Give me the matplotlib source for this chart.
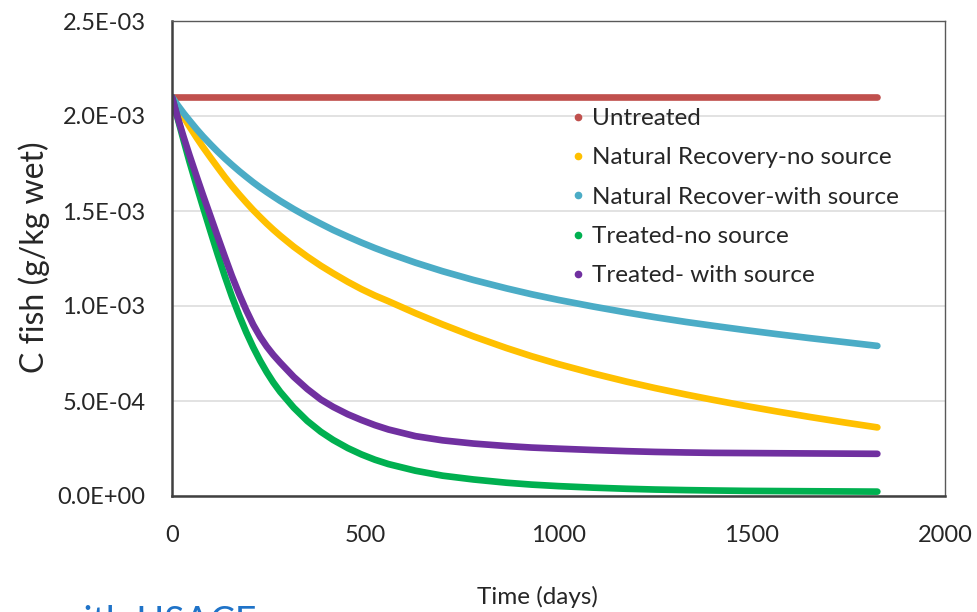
import matplotlib
matplotlib.use("Agg")
import matplotlib.pyplot as plt
from matplotlib.lines import Line2D
from matplotlib.ticker import FuncFormatter, MultipleLocator

plt.rcParams["font.family"] = ["Lato", "DejaVu Sans"]

# time axis (days) and fish concentration (x1e-3 g/kg wet)
days = [0, 15, 30, 45, 64, 80, 100, 118, 137, 155, 175, 192, 210, 228, 245, 262,
        280, 315, 350, 385, 417, 455, 490, 525, 560, 630, 700, 780, 865, 930,
        1000, 1090, 1176, 1250, 1330, 1400, 1484, 1565, 1650, 1740, 1825]

untreated = [2.10] * len(days)

nr_no_source = [2.10, 2.047, 1.995, 1.945, 1.885, 1.837, 1.78, 1.73, 1.678, 1.632,
                1.584, 1.545, 1.505, 1.468, 1.434, 1.402, 1.37, 1.312, 1.26, 1.212,
                1.172, 1.127, 1.089, 1.055, 1.025, 0.962, 0.903, 0.840, 0.779, 0.736,
                0.694, 0.645, 0.602, 0.568, 0.534, 0.506, 0.474, 0.445, 0.416,
                0.387, 0.361]

nr_with_source = [2.10, 2.056, 2.015, 1.977, 1.93, 1.893, 1.85, 1.813, 1.776, 1.743,
                  1.708, 1.68, 1.651, 1.624, 1.60, 1.577, 1.553, 1.51, 1.47, 1.433,
                  1.40, 1.365, 1.334, 1.305, 1.278, 1.228, 1.183, 1.137, 1.093, 1.062,
                  1.032, 0.997, 0.966, 0.941, 0.916, 0.896, 0.873, 0.852, 0.831,
                  0.81, 0.79]

treated_no_source = [2.10, 1.985, 1.872, 1.761, 1.63, 1.522, 1.39, 1.273, 1.155,
                     1.05, 0.945, 0.862, 0.783, 0.712, 0.652, 0.598, 0.548, 0.465,
                     0.395, 0.338, 0.295, 0.252, 0.219, 0.191, 0.168, 0.133, 0.107,
                     0.087, 0.070, 0.060, 0.052, 0.044, 0.038, 0.034, 0.031, 0.029,
                     0.027, 0.026, 0.025, 0.024, 0.023]

treated_with_source = [2.10, 1.99, 1.89, 1.795, 1.68, 1.585, 1.47, 1.366, 1.258,
                       1.158, 1.057, 0.978, 0.902, 0.838, 0.787, 0.743, 0.702, 0.627,
                       0.563, 0.508, 0.469, 0.43, 0.40, 0.373, 0.35, 0.315, 0.293,
                       0.276, 0.263, 0.255, 0.249, 0.242, 0.236, 0.232, 0.229, 0.227,
                       0.226, 0.225, 0.224, 0.223, 0.222]

labels = ["Untreated", "Natural Recovery-no source", "Natural Recover-with source",
          "Treated-no source", "Treated- with source"]
colors = ["#C0504D", "#FFC000", "#4BACC6", "#00B050", "#7030A0"]
series = [untreated, nr_no_source, nr_with_source, treated_no_source, treated_with_source]

fig = plt.figure(figsize=(9.77, 6.12), dpi=100)
ax = fig.add_axes([172 / 977, 1 - 496 / 612, 773 / 977, 475 / 612])

for values, color in zip(series, colors):
    ax.plot(days, [v * 1e-3 for v in values], color=color, lw=4.8,
            solid_capstyle="round", solid_joinstyle="round")

ax.set_xlim(0, 2000)
ax.set_ylim(0, 2.5e-3)
ax.xaxis.set_major_locator(MultipleLocator(500))
ax.yaxis.set_major_locator(MultipleLocator(0.5e-3))
ax.yaxis.set_major_formatter(FuncFormatter(lambda v, p: f"{v:.1E}"))
ax.tick_params(length=0, labelsize=17, labelcolor="#262626")
ax.tick_params(axis="y", pad=19)
ax.tick_params(axis="x", pad=21)

ax.grid(axis="y", color="#DDDDDD", lw=1.2)
ax.set_axisbelow(True)
for side in ["left", "bottom"]:
    ax.spines[side].set_color("#404040")
    ax.spines[side].set_linewidth(1.8)
for side in ["top", "right"]:
    ax.spines[side].set_color("#595959")
    ax.spines[side].set_linewidth(1.0)

handles = [Line2D([0], [0], marker="o", color=c, ls="none", markersize=4.5)
           for c in colors]
ax.legend(handles, labels, loc="upper left", bbox_to_anchor=(572 / 977, 1 - 108 / 612),
          bbox_transform=fig.transFigure, frameon=False, fontsize=17.5,
          handlelength=0.5, handletextpad=0.33, labelspacing=0.755,
          borderaxespad=0, borderpad=0, labelcolor="#262626")

fig.text(34 / 977, 1 - 257 / 612, "C fish (g/kg wet)", rotation=90,
         ha="center", va="center", fontsize=23, color="#262626")
fig.text(537 / 977, 1 - 597 / 612, "Time (days)", ha="center", va="center",
         fontsize=17.5, color="#262626")
fig.text(54 / 977, 1 - 634 / 612, "with USACE", ha="left", va="baseline",
         fontsize=27, color="#1F73C8")

fig.savefig("out.png", dpi=100)
